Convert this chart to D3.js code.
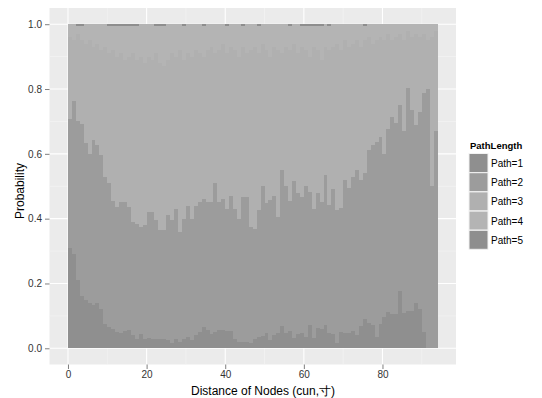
<!DOCTYPE html>
<html lang="en">
<head>
<meta charset="utf-8">
<title>Path length probability</title>
<script type="text/javascript" src="https://cdn.jsdelivr.net/npm/d3@7/dist/d3.min.js"></script>
<style>
  body { margin: 0; background: #fff; }
  text { font-family: "Liberation Sans", Arial, sans-serif; }
</style>
</head>
<body>
<script type="text/javascript">
// distance bins, width 1 (cun)
var distance = d3.range(0, 94);

var pathKeys = ["Path=1", "Path=2", "Path=3", "Path=4", "Path=5"];
var pathColors = ["#8f8f8f", "#9c9c9c", "#b0b0b0", "#b4b4b4", "#8e8e8e"];

var path1 = [.31,.29,.21,.16,.15,.14,.135,.14,.12,.075,
  .066,.06,.05,.048,.052,.056,.04,.03,.045,.03,
  .032,.03,.03,.028,.028,.025,.015,.03,.02,.03,
  .035,.025,.04,.05,.067,.055,.045,.05,.055,.055,
  .052,.052,.03,.02,.02,.018,.015,.03,.036,.038,
  .046,.026,.041,.046,.069,.046,.054,.031,.044,.046,
  .036,.072,.031,.062,.059,.072,.046,.044,.015,.049,
  .046,.046,.054,.041,.069,.089,.079,.072,.036,.075,
  .098,.113,.105,.105,.178,.11,.115,.115,.141,.12,
  .051,0,0,0];

var path2 = [.397,.474,.49,.531,.483,.46,.508,.487,.477,.455,
  .444,.395,.387,.402,.398,.381,.35,.354,.329,.351,
  .39,.392,.365,.337,.337,.385,.382,.40,.34,.37,
  .405,.375,.40,.40,.393,.397,.407,.46,.397,.405,
  .378,.418,.40,.38,.446,.448,.358,.337,.391,.462,
  .401,.433,.429,.359,.481,.454,.401,.485,.434,.42,
  .464,.411,.399,.418,.391,.463,.397,.446,.412,.383,
  .474,.45,.473,.509,.451,.451,.533,.555,.599,.578,
  .502,.564,.608,.591,.573,.562,.687,.62,.549,.61,
  .738,.80,.50,.67];

var path3 = [.253,.186,.27,.259,.307,.35,.287,.313,.323,.40,
  .40,.465,.463,.46,.44,.463,.52,.506,.526,.499,
  .478,.468,.515,.515,.505,.48,.513,.47,.56,.49,
  .47,.50,.48,.46,.44,.468,.478,.40,.468,.48,
  .48,.46,.49,.50,.464,.444,.547,.563,.483,.44,
  .473,.441,.46,.515,.36,.43,.465,.424,.432,.464,
  .42,.417,.50,.44,.44,.395,.477,.44,.513,.488,
  .43,.434,.413,.40,.41,.41,.348,.313,.315,.307,
  .35,.293,.237,.264,.219,.278,.178,.225,.28,.23,
  .181,.15,.46,.31];

var path4 = [.04,.05,.025,.046,.06,.05,.07,.06,.08,.07,
  .085,.076,.094,.085,.106,.094,.085,.106,.10,.12,
  .10,.11,.085,.114,.126,.11,.09,.10,.08,.105,
  .09,.10,.08,.09,.095,.08,.07,.09,.08,.06,
  .085,.07,.08,.10,.064,.09,.08,.07,.085,.06,
  .08,.10,.07,.08,.09,.07,.074,.06,.09,.066,
  .075,.094,.066,.075,.106,.07,.075,.07,.06,.08,
  .05,.07,.06,.05,.07,.045,.04,.06,.05,.04,
  .05,.03,.05,.04,.03,.05,.02,.04,.03,.04,
  .03,.05,.04,.02];

var path5 = [0,0,.005,.004,0,0,0,0,0,0,
  .005,.004,.006,.005,.004,.006,.005,.004,0,0,
  0,0,.005,.006,.004,0,0,0,0,.005,
  0,0,0,0,.005,0,0,0,0,0,
  .005,0,0,0,.006,0,0,0,.005,0,
  0,0,0,0,0,0,.006,0,0,.004,
  .005,.006,.004,.005,.004,0,.005,0,0,0,
  0,0,0,0,0,.005,0,0,0,0,
  0,0,0,0,0,0,0,0,0,0,
  0,0,0,0];

var xTicks = [0, 20, 40, 60, 80];
var yTicks = [0, 0.2, 0.4, 0.6, 0.8, 1.0];

var w = 542, h = 398;
var panel = { left: 49.5, right: 456, top: 8, bottom: 364.5 };

var rows = distance.map(function(d, i) {
  return { d: d, "Path=1": path1[i], "Path=2": path2[i], "Path=3": path3[i],
           "Path=4": path4[i], "Path=5": path5[i] };
});

var series = d3.stack().keys(pathKeys).offset(d3.stackOffsetExpand)(rows);

var x = d3.scaleLinear().domain([-4.7, 98.7]).range([panel.left, panel.right]);
var y = d3.scaleLinear().domain([-0.05, 1.05]).range([panel.bottom, panel.top]);

var svg = d3.select("body").append("svg")
  .attr("width", w)
  .attr("height", h);

svg.append("rect")
  .attr("x", panel.left).attr("y", panel.top)
  .attr("width", panel.right - panel.left)
  .attr("height", panel.bottom - panel.top)
  .attr("fill", "#ebebeb");

// minor grid
svg.append("g").selectAll("line")
  .data([10, 30, 50, 70, 90])
  .enter().append("line")
  .attr("x1", function(d) { return x(d); }).attr("x2", function(d) { return x(d); })
  .attr("y1", panel.top).attr("y2", panel.bottom)
  .attr("stroke", "#f5f5f5").attr("stroke-width", 0.6);
svg.append("g").selectAll("line")
  .data([0.1, 0.3, 0.5, 0.7, 0.9])
  .enter().append("line")
  .attr("y1", function(d) { return y(d); }).attr("y2", function(d) { return y(d); })
  .attr("x1", panel.left).attr("x2", panel.right)
  .attr("stroke", "#f5f5f5").attr("stroke-width", 0.6);

// major grid
svg.append("g").selectAll("line")
  .data(xTicks)
  .enter().append("line")
  .attr("x1", function(d) { return x(d); }).attr("x2", function(d) { return x(d); })
  .attr("y1", panel.top).attr("y2", panel.bottom)
  .attr("stroke", "#ffffff").attr("stroke-width", 1.1);
svg.append("g").selectAll("line")
  .data(yTicks)
  .enter().append("line")
  .attr("y1", function(d) { return y(d); }).attr("y2", function(d) { return y(d); })
  .attr("x1", panel.left).attr("x2", panel.right)
  .attr("stroke", "#ffffff").attr("stroke-width", 1.1);

// stacked bars
svg.append("g").selectAll("g")
  .data(series)
  .enter().append("g")
  .attr("fill", function(s, i) { return pathColors[i]; })
  .selectAll("rect")
  .data(function(s) { return s; })
  .enter().append("rect")
  .attr("x", function(d) { return x(d.data.d); })
  .attr("width", function(d) { return x(d.data.d + 1) - x(d.data.d); })
  .attr("y", function(d) { return y(d[1]); })
  .attr("height", function(d) { return y(d[0]) - y(d[1]); })
  .attr("shape-rendering", "crispEdges");

// axes
var xAxis = svg.append("g")
  .attr("transform", "translate(0," + panel.bottom + ")")
  .call(d3.axisBottom(x).tickValues(xTicks).tickFormat(d3.format("d")).tickSize(4.5).tickPadding(2));
var yAxis = svg.append("g")
  .attr("transform", "translate(" + panel.left + ",0)")
  .call(d3.axisLeft(y).tickValues(yTicks).tickFormat(d3.format(".1f")).tickSize(4.5).tickPadding(3));

[xAxis, yAxis].forEach(function(a) {
  a.select(".domain").remove();
  a.selectAll(".tick line").attr("stroke", "#7f7f7f");
  a.selectAll(".tick text")
    .attr("fill", "#333")
    .style("font-size", "10px")
    .style("font-family", "Liberation Sans, Arial, sans-serif");
});

svg.append("text")
  .attr("x", 263).attr("y", 395)
  .attr("text-anchor", "middle")
  .attr("font-size", "12px")
  .attr("fill", "#000")
  .text("Distance of Nodes (cun,寸)");

svg.append("text")
  .attr("transform", "translate(24,191) rotate(-90)")
  .attr("text-anchor", "middle")
  .attr("font-size", "12px")
  .attr("fill", "#000")
  .text("Probability");

// legend
var legend = svg.append("g").attr("transform", "translate(469,0)");
legend.append("text")
  .attr("x", 1).attr("y", 148.5)
  .attr("font-size", "9.5px")
  .attr("font-weight", "bold")
  .text("PathLength");

var items = legend.selectAll("g.item")
  .data(pathKeys)
  .enter().append("g")
  .attr("class", "item")
  .attr("transform", function(d, i) { return "translate(0," + (153.5 + i * 19.2) + ")"; });
items.append("rect")
  .attr("width", 19).attr("height", 19)
  .attr("fill", function(d, i) { return pathColors[i]; })
  .attr("stroke", "#f2f2f2").attr("stroke-width", 1);
items.append("text")
  .attr("x", 22).attr("y", 13.5)
  .attr("font-size", "10px")
  .attr("fill", "#000")
  .text(function(d) { return d; });
</script>
</body>
</html>
